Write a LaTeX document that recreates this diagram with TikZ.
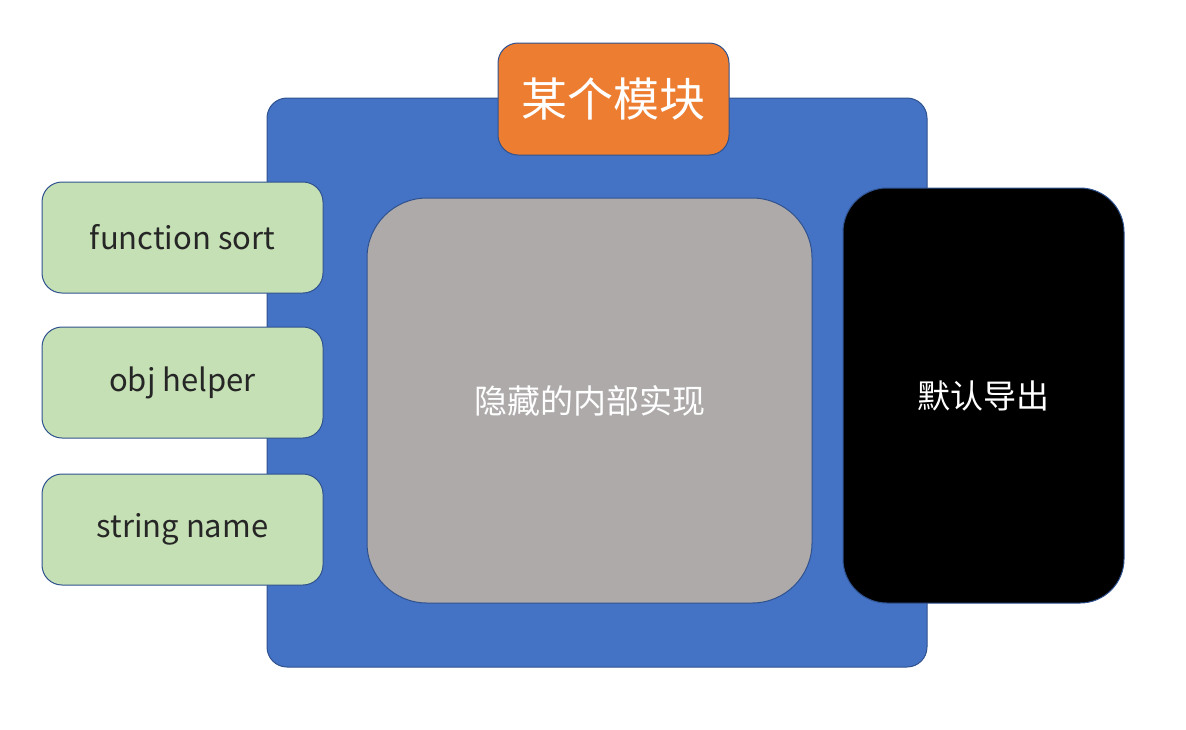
\documentclass[tikz,border=0pt]{standalone}
\usepackage{fontspec}
\setmainfont{Noto Sans CJK SC}
\usepackage{xcolor}
\usetikzlibrary{shapes,calc,positioning}
\definecolor{modblue}{HTML}{4472C4}
\definecolor{modorange}{HTML}{ED7D31}
\definecolor{modgreen}{HTML}{C5E0B4}
\definecolor{modgray}{HTML}{AEAAAA}
\definecolor{modline}{HTML}{2F528F}
\begin{document}
\begin{tikzpicture}[x=0.5pt,y=-0.5pt]
  \tikzset{mod box/.style={draw=modline,line width=0.5pt,rectangle,inner sep=0pt,fill=#1}}
  \useasboundingbox (0,0) rectangle (1186,729);
  \node [mod box = modblue,rounded corners=10pt,minimum width=330pt,minimum height=284.5pt] (mod) at (597,382.5) {};
  \node [mod box = modorange,rounded corners=10pt,minimum width=115.5pt,minimum height=56pt,text=white,font=\fontsize{23}{27}\selectfont] (title) at (613.5,99) {某个模块};
  \node [mod box = modgreen,rounded corners=10pt,minimum width=140.5pt,minimum height=55.5pt,text=black!85,font=\fontsize{15.5}{18}\selectfont] (sort) at (182.5,237.5) {function sort};
  \node [mod box = modgreen,rounded corners=10pt,minimum width=140.5pt,minimum height=55.5pt,text=black!85,font=\fontsize{15.5}{18}\selectfont] (helper) at (182.5,382.5) {obj helper};
  \node [mod box = modgreen,rounded corners=10pt,minimum width=140.5pt,minimum height=55.5pt,text=black!85,font=\fontsize{15.5}{18}\selectfont] (name) at (182.5,529.5) {string name};
  \node [mod box = modgray,rounded corners=30pt,minimum width=222.5pt,minimum height=202.5pt,text=white,font=\fontsize{16.5}{20}\selectfont] (hidden) at (589.5,400.5) {隐藏的内部实现};
  \node [mod box = black,rounded corners=22pt,minimum width=140.5pt,minimum height=207.5pt,text=white,font=\fontsize{16.5}{20}\selectfont] (export) at (983.5,395.5) {默认导出};
\end{tikzpicture}
\end{document}
